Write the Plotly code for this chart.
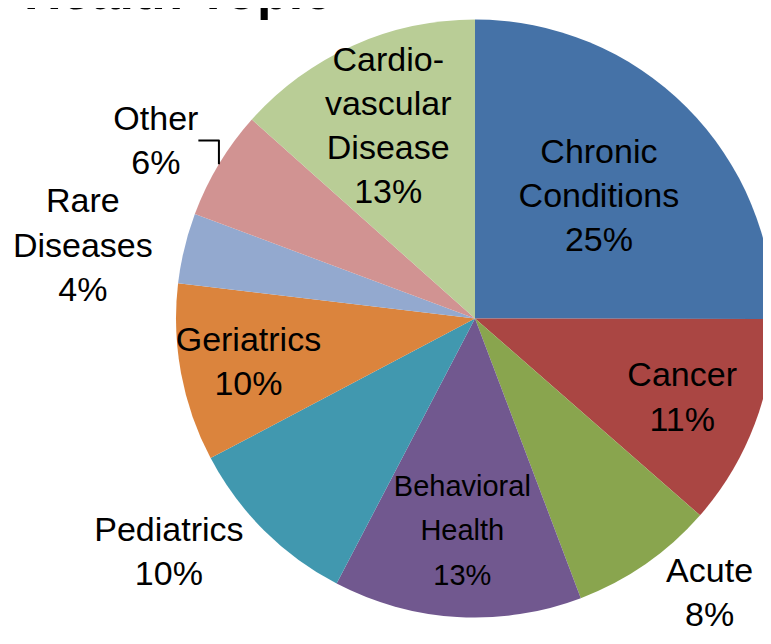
import plotly.graph_objects as go

# slice data, clockwise from 12 o'clock
TOPICS = ['Chronic Conditions', 'Cancer', 'Acute', 'Behavioral Health', 'Pediatrics',
          'Geriatrics', 'Rare Diseases', 'Other', 'Cardiovascular Disease']
LABEL_LINES = [['Chronic', 'Conditions'], ['Cancer'], ['Acute'], ['Behavioral', 'Health'],
               ['Pediatrics'], ['Geriatrics'], ['Rare', 'Diseases'], ['Other'],
               ['Cardio-', 'vascular', 'Disease']]
SHARES = [25, 11.4, 7.8, 13.4, 9.6, 9.6, 3.8, 5.9, 13.4]

COLORS = ['#4572A7', '#AA4643', '#89A54E', '#71588F', '#4198AF',
          '#DB843D', '#93A9CF', '#D19392', '#B9CD96']
POSITIONS = ['inside', 'inside', 'outside', 'inside', 'outside',
             'inside', 'outside', 'outside', 'inside']
# Behavioral Health label is set a bit smaller than the rest
LINE_PX = [None, None, None, 29, None, None, None, None, None]

FONT = 'Liberation Sans, Arial, sans-serif'
SIZE = 34

total = sum(SHARES)
labels = []
for lines, v, px in zip(LABEL_LINES, SHARES, LINE_PX):
    rows = lines + ['%d%%' % round(v / total * 100)]
    if px:
        rows = ['<span style="font-size:%dpx">%s</span>' % (px, r) for r in rows]
    labels.append('<br>'.join(rows))

fig = go.Figure(go.Pie(
    labels=TOPICS,
    values=SHARES,
    text=labels,
    texttemplate='%{text}',
    textposition=POSITIONS,
    insidetextorientation='horizontal',
    textfont=dict(family=FONT, size=SIZE, color='black'),
    outsidetextfont=dict(family=FONT, size=SIZE, color='black'),
    marker=dict(colors=COLORS, line=dict(width=0)),
    sort=False,
    direction='clockwise',
    showlegend=False,
))

# title sits mostly above the top edge, as in the cropped original
fig.add_annotation(
    text='<b>Health Topic</b>', xref='paper', yref='paper',
    x=0.0033, y=1, xanchor='center', yanchor='bottom', yshift=-6,
    showarrow=False, font=dict(family=FONT, size=52, color='black'),
)

fig.update_layout(
    width=771, height=644,
    margin=dict(l=157, r=2, t=1, b=31),
    paper_bgcolor='white',
    font=dict(family=FONT, color='black'),
    uniformtext=dict(minsize=SIZE, mode='show'),
)

fig.write_html('out.html')
